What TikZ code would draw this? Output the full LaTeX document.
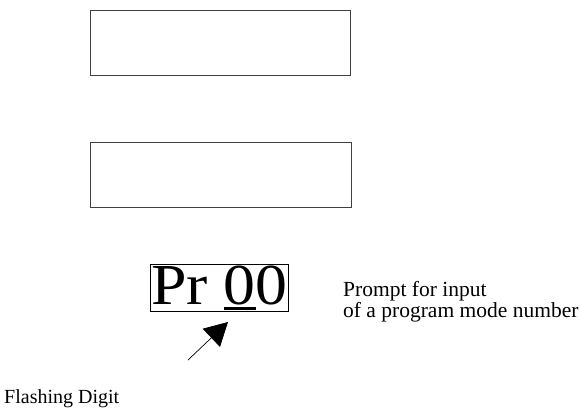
\documentclass[tikz,border=0pt]{standalone}
\usepackage{fontspec}
\setmainfont{Liberation Serif}
\usetikzlibrary{arrows.meta}
\newcommand{\flashdigit}[1]{\rlap{\rule[-5pt]{29pt}{3pt}}#1}
\begin{document}
\begin{tikzpicture}[x=1pt,y=-1pt,
  panel/.style={draw=black!75,line width=1pt},
  label/.style={inner sep=0pt,anchor=base west,font=\fontsize{21.5}{21}\selectfont,align=left},
  pointer/.style={line width=0.7pt,-{Triangle[length=23pt,width=25pt]}}]
\useasboundingbox (0,0) rectangle (580,407);
% two blank display panels
\node[panel,minimum width=260pt,minimum height=65pt,inner sep=0pt] (top) at (220,42.5) {};
\node[panel,minimum width=261pt,minimum height=65pt,inner sep=0pt] (mid) at (220.5,174.5) {};
% prompt display
\node[draw,line width=0.8pt,inner xsep=1pt,inner ysep=1.5pt,font=\fontsize{58}{58}\selectfont,
      xscale=1.1,transform shape] (disp) at (219.5,288) {Pr \flashdigit{0}0};
\node[label] (note) at (343,317) {Prompt for input\\of a program mode number};
\node[label,font=\fontsize{20}{20}\selectfont] (flash) at (4,403) {Flashing Digit};
\coordinate (tail) at (188,360);
\coordinate (tip) at (228,322);
\draw[pointer] (tail) -- (tip);
\end{tikzpicture}
\end{document}
